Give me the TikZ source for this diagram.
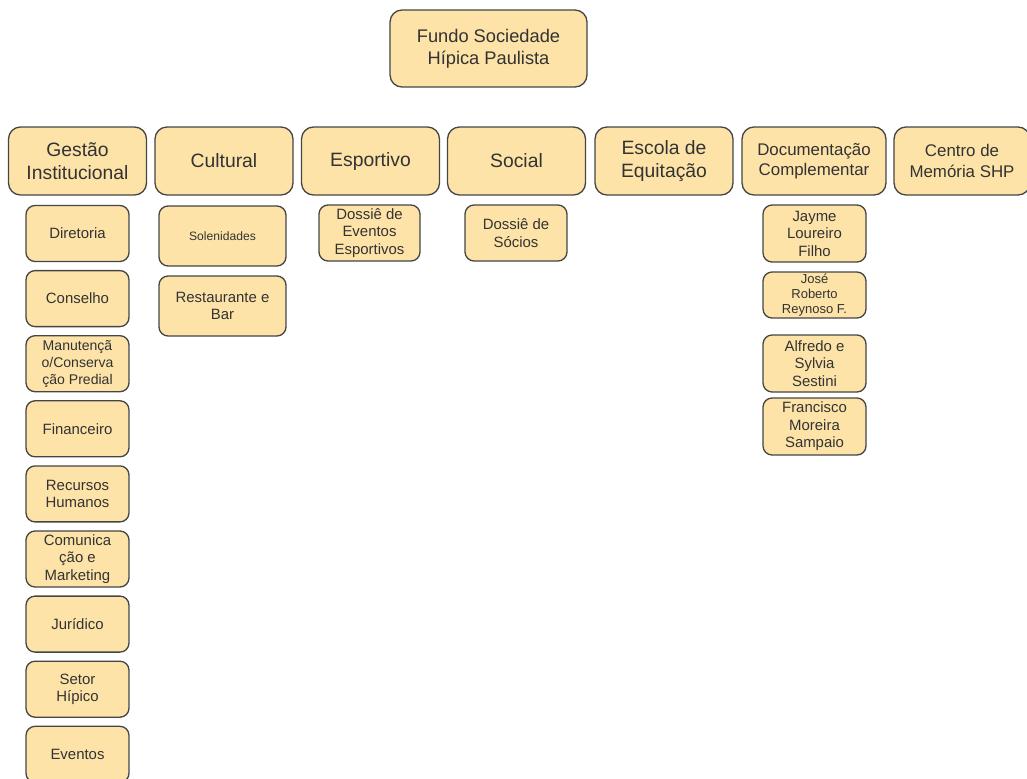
\documentclass[tikz,border=0pt]{standalone}
\usepackage{fontspec}
\setmainfont{Liberation Sans}
\usepackage{xcolor}
\usetikzlibrary{positioning}
\definecolor{boxfill}{HTML}{FDE3A8}
\definecolor{boxline}{HTML}{454545}
\definecolor{boxtext}{HTML}{333333}

\begin{document}
\begin{tikzpicture}[x=0.02cm,y=-0.02cm,
                    box/.style={draw=boxline,fill=boxfill,line width=0.75pt,align=center,inner sep=0pt,text=boxtext},
                    head node/.style={box,rounded corners=0.24cm,minimum width=2.76cm,minimum height=1.36cm,font=\fontsize{11}{13}\selectfont},
                    sub node/.style={box,rounded corners=0.18cm,minimum width=2.06cm,minimum height=1.12cm,font=\fontsize{8.5}{10}\selectfont}]
\useasboundingbox (0,0) rectangle (1027,778);

\node[head node,minimum width=3.94cm,minimum height=1.54cm,font=\fontsize{10.4}{12.3}\selectfont] (Fundo) at (488.5,48.5) {Fundo Sociedade\\Hípica Paulista};

% first row
\foreach \x/\name/\txt in {77.5/Gestao/{Gestão\\Institucional}, 224/Cultural/Cultural, 370.5/Esportivo/Esportivo, 516.5/Social/Social, 664/Escola/{Escola de\\Equitação}}
   \node[head node] (\name) at (\x,161) {\txt};
\node[head node,minimum width=2.88cm,font=\fontsize{9.6}{11.5}\selectfont] (Documentacao) at (814,161) {Documentação\\Complementar};
\node[head node,minimum width=2.72cm,font=\fontsize{9.6}{11.5}\selectfont] (Centro) at (962,161) {Centro de\\Memória SHP};

% Gestao column
\foreach \i/\name/\txt in {0/Diretoria/Diretoria, 1/Conselho/Conselho, 3/Financeiro/Financeiro, 4/Recursos/{Recursos\\Humanos}, 5/Comunicacao/{Comunica\\ção e\\Marketing}, 6/Juridico/Jurídico, 7/Setor/{Setor\\Hípico}, 8/Eventos/Eventos}
   \node[sub node] (\name) at (77.5,233.5+65.1*\i) {\txt};
\node[sub node,font=\fontsize{8}{9.7}\selectfont] (Manutencao) at (77.5,363.7) {Manutençã\\o/Conserva\\ção Predial};

% Cultural, Esportivo, Social
\node[sub node,minimum width=2.54cm,minimum height=1.2cm,font=\fontsize{6.9}{8}\selectfont] (Solenidades) at (222.5,236) {Solenidades};
\node[sub node,minimum width=2.54cm,minimum height=1.2cm] (Restaurante) at (222.5,306) {Restaurante e\\Bar};
\node[sub node,minimum width=2.02cm] (DossieEventos) at (369.5,233) {Dossiê de\\Eventos\\Esportivos};
\node[sub node,minimum width=2.04cm] (DossieSocios) at (516,233) {Dossiê de\\Sócios};

% Documentacao column
\node[sub node,minimum height=1.14cm] (Jayme) at (814.5,233.5) {Jayme\\Loureiro\\Filho};
\node[sub node,minimum height=0.92cm,font=\fontsize{7.4}{8.5}\selectfont] (Jose) at (814.5,295) {José\\Roberto\\Reynoso F.};
\node[sub node,minimum height=1.14cm] (Alfredo) at (814.5,363.5) {Alfredo e\\Sylvia\\Sestini};
\node[sub node,minimum height=1.14cm] (Francisco) at (814.5,426.5) {Francisco\\Moreira\\Sampaio};
\end{tikzpicture}
\end{document}
